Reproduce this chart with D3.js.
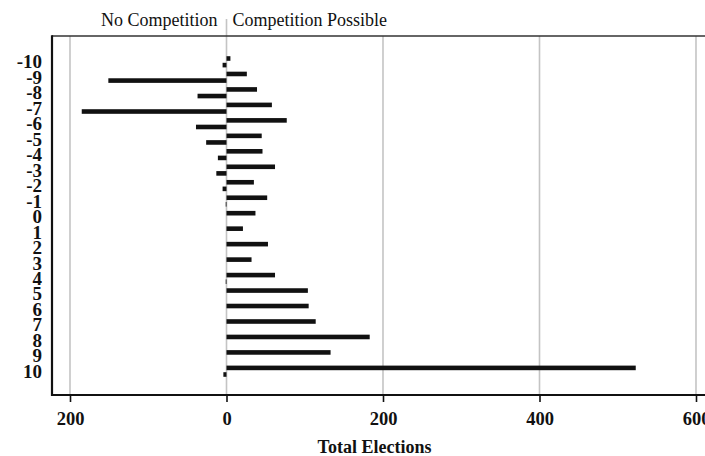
<!DOCTYPE html>
<html>
<head>
<meta charset="utf-8">
<script src="https://cdn.jsdelivr.net/npm/d3@7"></script>
<style>
  html, body { margin: 0; padding: 0; background: #fff; }
  svg { display: block; }
  text { font-family: "Liberation Serif", "Times New Roman", serif; fill: #111; }
</style>
</head>
<body>
<svg id="chart" width="705" height="456"></svg>
<script>
const categories = [-10,-9,-8,-7,-6,-5,-4,-3,-2,-1,0,1,2,3,4,5,6,7,8,9,10];
const competitionPossible = [5,26,39,58,77,45,46,62,35,52,37,21,53,32,62,104,105,114,183,133,523];
const noCompetition = [5,151,37,185,39,26,11,13,5,1,0,0,0,0,1,0,0,0,0,0,4];
const xTicks = [-200, 0, 200, 400, 600];
const sideLabels = ["No Competition", "Competition Possible"];
const xTitle = "Total Elections";

const svg = d3.select("#chart");
const frame = {left: 52, top: 36, bottom: 395, right: 710};

const x = d3.scaleLinear().domain([-200, 600]).range([70, 696]);
const y = d3.scalePoint().domain(categories).range([61.8, 371.2]);
const barH = 4.6, off = 3.3;

// gridlines
svg.append("g").selectAll("line").data(xTicks).join("line")
  .attr("x1", d => x(d)).attr("x2", d => x(d))
  .attr("y1", d => d === 0 ? 19 : frame.top).attr("y2", frame.bottom)
  .attr("stroke", "#c4c4c4").attr("stroke-width", 1.6);

// frame
svg.append("line").attr("x1", frame.left).attr("x2", frame.right)
  .attr("y1", frame.top).attr("y2", frame.top)
  .attr("stroke", "#333").attr("stroke-width", 1.6);
svg.append("line").attr("x1", frame.left).attr("x2", frame.left)
  .attr("y1", frame.top - 0.8).attr("y2", frame.bottom + 1)
  .attr("stroke", "#111").attr("stroke-width", 2.2);

// bars
const rows = categories.map((c, i) => ({c, pos: competitionPossible[i], neg: noCompetition[i]}));
const bars = svg.append("g").attr("fill", "#111");
bars.selectAll("rect.pos").data(rows.filter(d => d.pos > 0)).join("rect")
  .attr("class", "pos")
  .attr("x", x(0)).attr("width", d => x(d.pos) - x(0))
  .attr("y", d => y(d.c) - off - barH / 2).attr("height", barH);
bars.selectAll("rect.neg").data(rows.filter(d => d.neg > 0)).join("rect")
  .attr("class", "neg")
  .attr("x", d => x(-d.neg)).attr("width", d => x(0) - x(-d.neg))
  .attr("y", d => y(d.c) + off - barH / 2).attr("height", barH);

// x axis
const xAxis = d3.axisBottom(x).tickValues(xTicks).tickSize(7).tickPadding(10)
  .tickFormat(d => Math.abs(d));
const gx = svg.append("g").attr("transform", `translate(0,${frame.bottom})`).call(xAxis);
gx.select(".domain").remove();
gx.selectAll(".tick line").attr("stroke", "#111").attr("stroke-width", 1.6);
gx.selectAll(".tick text").attr("font-size", 18.5).attr("font-weight", "bold")
  .attr("font-family", "Liberation Serif, serif").attr("fill", "#111");
svg.append("line").attr("x1", frame.left - 1).attr("x2", frame.right)
  .attr("y1", frame.bottom).attr("y2", frame.bottom)
  .attr("stroke", "#111").attr("stroke-width", 2.2);

// y axis labels
const yAxis = d3.axisLeft(y).tickSize(0).tickPadding(10);
const gy = svg.append("g").attr("transform", `translate(${frame.left},0)`).call(yAxis);
gy.select(".domain").remove();
gy.selectAll(".tick text").attr("font-size", 19).attr("font-weight", "bold")
  .attr("font-family", "Liberation Serif, serif").attr("fill", "#111");

// side labels
svg.append("text").attr("x", x(0) - 9).attr("y", 26).attr("text-anchor", "end")
  .attr("font-size", 18).text(sideLabels[0]);
svg.append("text").attr("x", x(0) + 6).attr("y", 26).attr("text-anchor", "start")
  .attr("font-size", 18).text(sideLabels[1]);

// x title
svg.append("text").attr("x", 374.5).attr("y", 453).attr("text-anchor", "middle")
  .attr("font-size", 18).attr("font-weight", "bold").text(xTitle);
</script>
</body>
</html>
